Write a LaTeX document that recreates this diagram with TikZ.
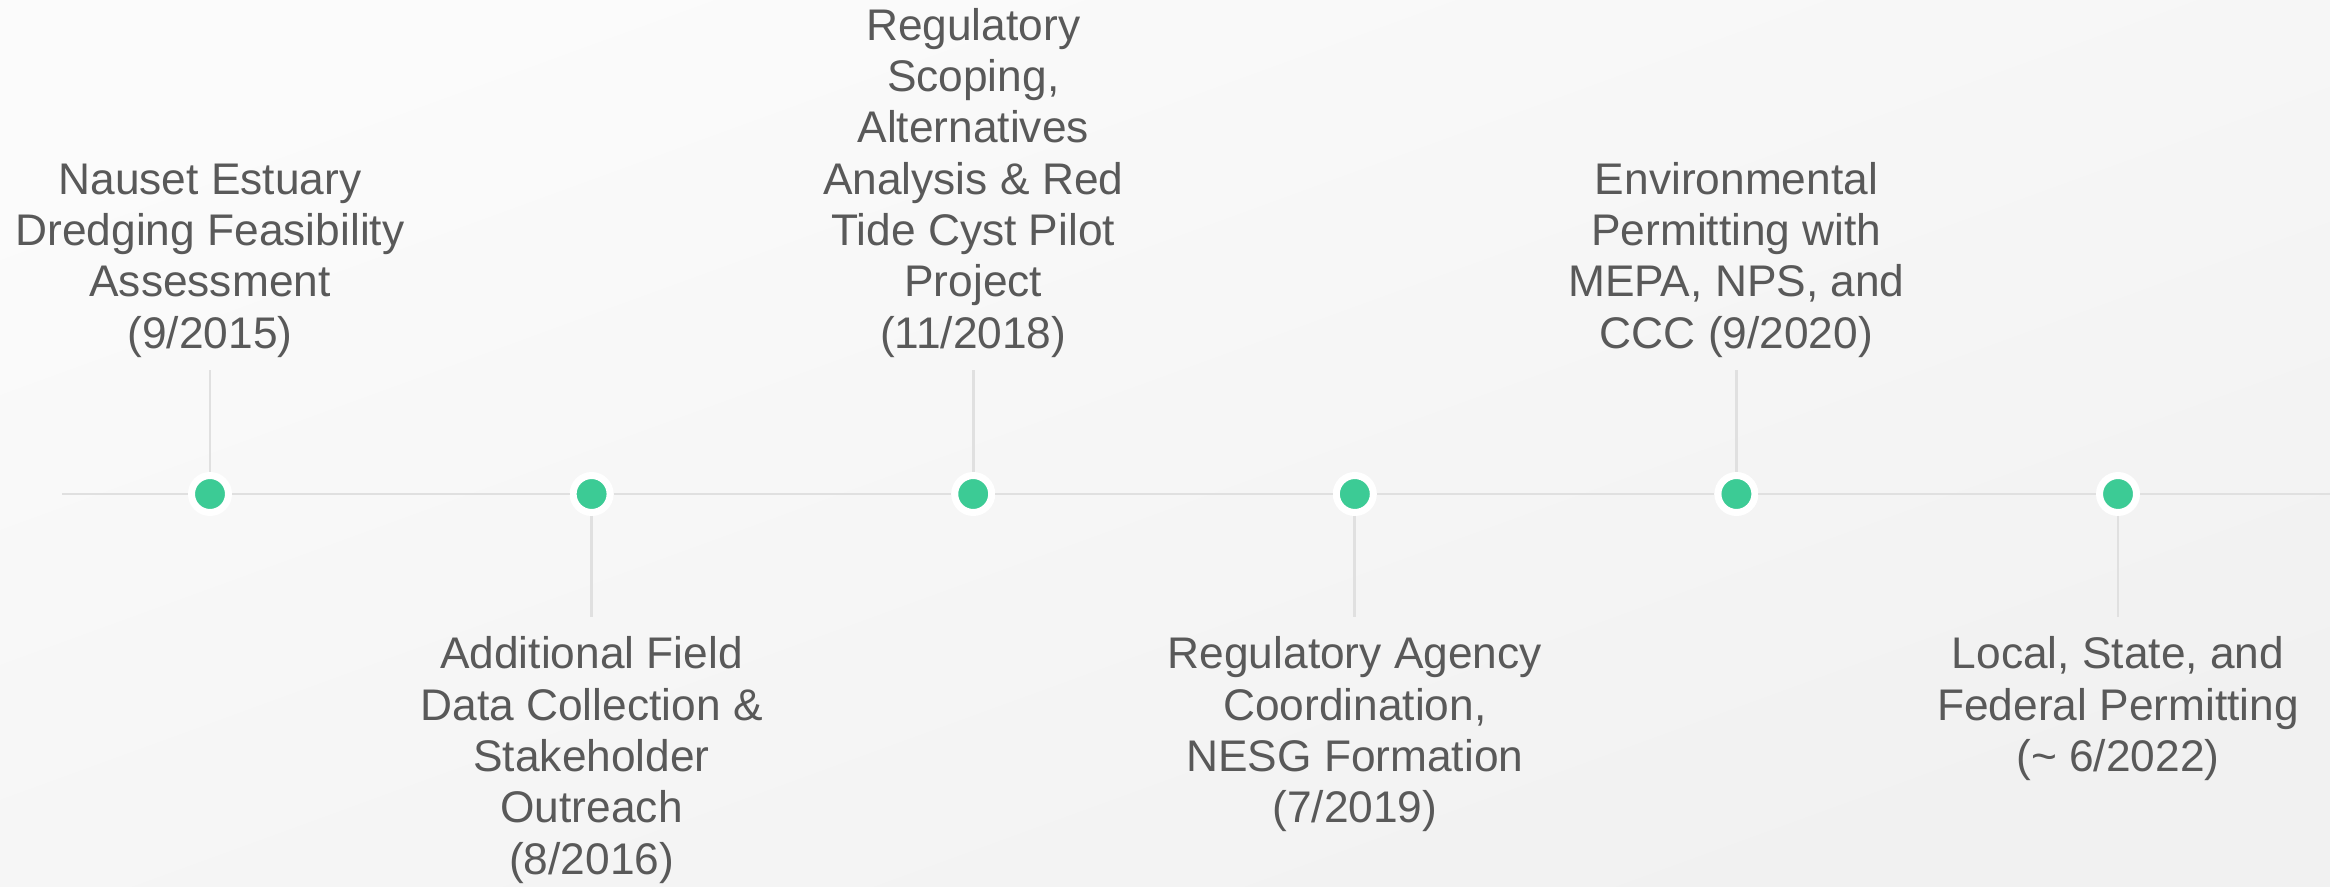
\documentclass[tikz,border=0pt]{standalone}
\usepackage{fontspec}
\setmainfont{Liberation Sans}
\usepackage{xcolor}
\usepackage{tikz}
\usetikzlibrary{positioning}
\definecolor{dotgreen}{HTML}{3CCB95}
\definecolor{rulegray}{HTML}{E0E0E0}
\definecolor{textgray}{HTML}{595959}
\definecolor{bgtop}{HTML}{FBFBFB}
\definecolor{bgbottom}{HTML}{F1F1F1}

\begin{document}
\begin{tikzpicture}[dot/.style={circle, fill=dotgreen, draw=white, line width=0.07cm, minimum size=0.37cm, inner sep=0pt}, label/.style={align=center, inner sep=0pt, text=textgray, font=\fontsize{12.6pt}{14.6pt}\selectfont}, rule/.style={draw=rulegray, line width=0.6pt}, stem/.style={draw=rulegray, line width=0.8pt}]

    \useasboundingbox (0,0) rectangle (23.3,8.86);
    \shade[shading=axis, top color=bgtop, bottom color=bgbottom, shading angle=20] (0,0) rectangle (23.3,8.86);

    %Nodes
    \node[dot](d1) at (2.10,3.92){};
    \node[dot](d2)[right=3.376cm of d1]{};
    \node[dot](d3)[right=3.376cm of d2]{};
    \node[dot](d4)[right=3.376cm of d3]{};
    \node[dot](d5)[right=3.376cm of d4]{};
    \node[dot](d6)[right=3.376cm of d5]{};
    \coordinate(start) at (0.62,3.92);
    \coordinate(finish) at (23.3,3.92);

    \node[label](l1)[above=1.14cm of d1]{Nauset Estuary\\Dredging Feasibility\\Assessment\\(9/2015)};
    \node[label](l2)[below=1.2cm of d2]{Additional Field\\Data Collection \&\\Stakeholder\\Outreach\\(8/2016)};
    \node[label](l3)[above=1.14cm of d3]{Regulatory\\Scoping,\\Alternatives\\Analysis \& Red\\Tide Cyst Pilot\\Project\\(11/2018)};
    \node[label](l4)[below=1.2cm of d4]{Regulatory Agency\\Coordination,\\NESG Formation\\(7/2019)};
    \node[label](l5)[above=1.14cm of d5]{Environmental\\Permitting with\\MEPA, NPS, and\\CCC (9/2020)};
    \node[label](l6)[below=1.2cm of d6]{Local, State, and\\Federal Permitting\\(\textasciitilde{} 6/2022)};

    %Lines
    \draw[rule] (start) -- (d1.west);
    \foreach \a/\b in {d1/d2, d2/d3, d3/d4, d4/d5, d5/d6}
        \draw[rule] (\a.east) -- (\b.west);
    \draw[rule] (d6.east) -- (finish);
    \foreach \d/\l in {d1/l1, d3/l3, d5/l5}
        \draw[stem, shorten >=0.12cm] (\d.north) -- (\l.south);
    \foreach \d/\l in {d2/l2, d4/l4, d6/l6}
        \draw[stem, shorten >=0.19cm] (\d.south) -- (\l.north);

\end{tikzpicture}
\end{document}
